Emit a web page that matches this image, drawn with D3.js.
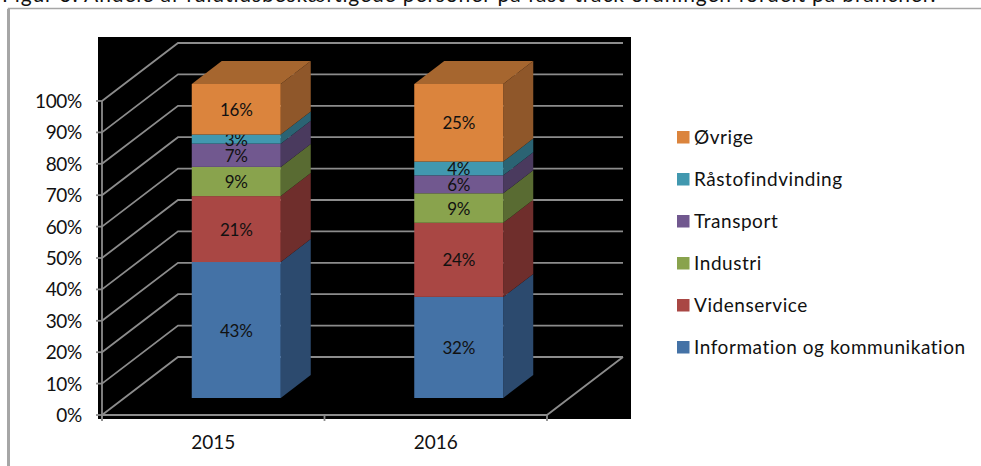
<!DOCTYPE html>
<html><head><meta charset="utf-8">
<script src="https://cdn.jsdelivr.net/npm/d3@7/dist/d3.min.js"></script>
<style>html,body{margin:0;padding:0;background:#fff}svg{display:block}text{font-family:Lato,"Open Sans",sans-serif;fill:#111}</style>
</head><body><svg id="c" width="981" height="466"></svg>
<script>
const title = "Figur 3: Andele af fuldtidsbeskæftigede personer på fast-track ordningen fordelt på brancher.";
const years = ["2015","2016"];
const seriesNames = ["Information og kommunikation","Videnservice","Industri","Transport","Råstofindvinding","Øvrige"];
const values2015 = [43.3,21,9.3,7.4,2.9,16.1];
const values2016 = [32.2,23.6,9.4,5.7,4.4,24.7];
const frontColors = ["#4472a6","#a94744","#89a34d","#71588f","#4198af","#db843d"];
const sideColors = ["#2c4a6e","#6f2e2c","#596b32","#4a3a5e","#2b6373","#8f572a"];
const topColors = ["#2c4a6e","#6f2e2c","#596b32","#4a3a5e","#2b6373","#a6662f"];
const ticks = d3.range(0,101,10);

const svg = d3.select("#c");
const depthX = 76, depthY = -58, barDepthX = 30, barDepthY = -23;
const y = d3.scaleLinear().domain([0,100]).range([415,101]);
const x = d3.scaleBand().domain(years).range([102,547]).paddingInner(0).paddingOuter(0);
const barW = 89, barFloorDX = 23, barFloorDY = -17;

// figure frame
svg.append("path").attr("d","M981,8.5H8.5V466").attr("fill","none").attr("stroke","#a6a6a6").attr("stroke-width",1.5);
svg.append("rect").attr("x",7).attr("y",9).attr("width",3).attr("height",457).attr("fill","#a6a6a6");
svg.append("text").attr("x",2).attr("y",2).attr("font-size",21).attr("letter-spacing",0.88).text(title);

// plot background
svg.append("rect").attr("x",98).attr("y",37).attr("width",533).attr("height",382).attr("fill","#000");

// walls: gridlines
const g = svg.append("g").attr("fill","none").attr("stroke","#8c8c8c").attr("stroke-width",1.8);
ticks.forEach(t=>{
  const yy=y(t);
  g.append("path").attr("d",`M${x.range()[0]},${yy}L${x.range()[0]+depthX},${yy+depthY}H${x.range()[1]+depthX}`);
  g.append("line").attr("x1",96).attr("x2",x.range()[0]).attr("y1",yy).attr("y2",yy);
});
g.append("line").attr("x1",x.range()[0]).attr("x2",x.range()[0]).attr("y1",y(100)).attr("y2",421);
g.append("path").attr("d",`M${x.range()[0]},${y(0)}H${x.range()[1]}L${x.range()[1]+depthX},${y(0)+depthY}`);
[x.range()[0],x.range()[0]+x.bandwidth(),x.range()[1]].forEach(v=>g.append("line").attr("x1",v).attr("x2",v).attr("y1",y(0)).attr("y2",421));

// axis labels
svg.append("g").selectAll("text").data(ticks).join("text")
  .attr("x",82).attr("y",d=>y(d)+7).attr("text-anchor","end").attr("font-size",19).attr("letter-spacing",-0.3).text(d=>d+"%");
svg.append("g").selectAll("text").data(years).join("text")
  .attr("x",d=>x(d)+x.bandwidth()/2).attr("y",449).attr("text-anchor","middle").attr("font-size",19).text(d=>d);

// bars
const rows = [values2015,values2016];
const baseY = v => y(v)+barFloorDY;
years.forEach((yr,i)=>{
  const left = x(yr)+x.bandwidth()/2-barW/2+barFloorDX;
  let acc=0;
  rows[i].forEach((v,s)=>{
    const y0=baseY(acc), y1=baseY(acc+v);
    const G=svg.append("g");
    G.append("path").attr("d",`M${left+barW},${y0}V${y1}L${left+barW+barDepthX},${y1+barDepthY}V${y0+barDepthY}Z`).attr("fill",sideColors[s]);
    G.append("rect").attr("x",left).attr("y",y1).attr("width",barW).attr("height",y0-y1).attr("fill",frontColors[s]);
    if(s===rows[i].length-1) G.append("path").attr("d",`M${left},${y1}L${left+barDepthX},${y1+barDepthY}H${left+barW+barDepthX}L${left+barW},${y1}Z`).attr("fill",topColors[s]);
    G.append("text").attr("x",left+barW/2).attr("y",(y0+y1)/2+6.5).attr("text-anchor","middle").attr("font-size",17).attr("letter-spacing",-0.3).text(Math.round(v)+"%");
    acc+=v;
  });
});

// legend
const leg = svg.append("g").selectAll("g").data(d3.range(seriesNames.length)).join("g")
  .attr("transform",d=>`translate(677,${347-d*42})`);
leg.append("rect").attr("y",-6).attr("width",12.5).attr("height",12.5).attr("fill",d=>frontColors[d]);
leg.append("text").attr("x",17).attr("y",6.5).attr("font-size",19).attr("letter-spacing",0.55).text(d=>seriesNames[d]);
</script></body></html>
